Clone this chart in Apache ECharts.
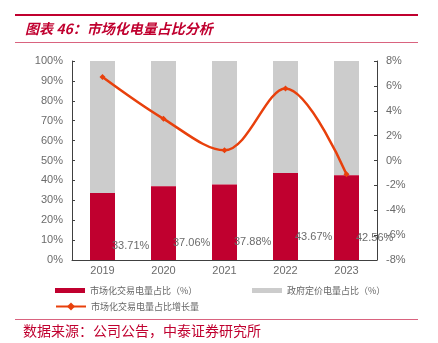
<!DOCTYPE html>
<html><head><meta charset="utf-8">
<script src="https://cdn.jsdelivr.net/npm/echarts@6/dist/echarts.min.js"></script>
<style>html,body{margin:0;padding:0;background:#fff}#c{width:438px;height:343px}</style>
</head><body><div id="c"></div>
<script>
var years = ['2019','2020','2021','2022','2023'];
var marketShare = [33.71, 37.06, 37.88, 43.67, 42.56];
var govShare = [66.29, 62.94, 62.12, 56.33, 57.44];
var shareGrowth = [6.71, 3.35, 0.82, 5.79, -1.11];
var leftTicks = [0, 100, 10];
var rightTicks = [-8, 8, 2];

var RED = '#C0002F', GRAY = '#CCCCCC', ORANGE = '#E8400C', TXT = '#6B6B6B';
var FONT = 'Liberation Sans, Arial, sans-serif';
var CJK = 'Noto Sans CJK SC';
var chart = echarts.init(document.getElementById('c'), null, {renderer: 'canvas'});
chart.setOption({
  animation: false,
  graphic: [
    {type: 'line', shape: {x1: 15, y1: 15, x2: 418, y2: 15}, style: {stroke: RED, lineWidth: 2}},
    {type: 'text', left: 25, top: 22, style: {text: '图表 46：市场化电量占比分析', fill: RED, font: 'italic bold 14px "Noto Sans CJK SC"'}},
    {type: 'line', shape: {x1: 15, y1: 42.5, x2: 418, y2: 42.5}, style: {stroke: '#D9637F', lineWidth: 1}},
    {type: 'line', shape: {x1: 15, y1: 319.5, x2: 418, y2: 319.5}, style: {stroke: '#D9637F', lineWidth: 1}},
    {type: 'text', left: 23, top: 324, style: {text: '数据来源：公司公告，中泰证券研究所', fill: RED, font: '14px "Noto Sans CJK SC"'}}
  ],
  legend: [
    {left: 50, top: 281, itemWidth: 30, itemHeight: 5, itemGap: 5, icon: 'rect',
     textStyle: {fontSize: 9, color: '#666', fontFamily: CJK}, data: ['市场化交易电量占比（%）']},
    {left: 247, top: 281, itemWidth: 30, itemHeight: 5, icon: 'rect',
     textStyle: {fontSize: 9, color: '#666', fontFamily: CJK}, data: ['政府定价电量占比（%）']},
    {left: 50, top: 297, itemWidth: 30, itemHeight: 10,
     textStyle: {fontSize: 9, color: '#666', fontFamily: CJK}, data: ['市场化交易电量占比增长量']}
  ],
  grid: {left: 72, right: 61, top: 61, bottom: 83},
  xAxis: {
    type: 'category', data: years, boundaryGap: true,
    axisLine: {lineStyle: {color: '#404040', width: 1}},
    axisTick: {inside: true, length: 3, lineStyle: {color: '#404040'}},
    axisLabel: {color: TXT, fontSize: 11, fontFamily: FONT, margin: 5}
  },
  yAxis: [
    {type: 'value', min: leftTicks[0], max: leftTicks[1], interval: leftTicks[2],
     axisLine: {show: true, lineStyle: {color: '#404040'}},
     axisTick: {show: true, inside: true, length: 3, lineStyle: {color: '#404040'}},
     splitLine: {show: false},
     axisLabel: {color: TXT, fontSize: 11, fontFamily: FONT, margin: 9, formatter: '{value}%'}},
    {type: 'value', min: rightTicks[0], max: rightTicks[1], interval: rightTicks[2], position: 'right',
     axisLine: {show: true, lineStyle: {color: '#404040'}},
     axisTick: {show: true, inside: true, length: 3, lineStyle: {color: '#404040'}},
     splitLine: {show: false},
     axisLabel: {color: TXT, fontSize: 11, fontFamily: FONT, margin: 9, formatter: '{value}%'}}
  ],
  series: [
    {name: '市场化交易电量占比（%）', type: 'bar', stack: 's', barWidth: 25, data: marketShare,
     itemStyle: {color: RED}, z: 2,
     label: {show: true, position: 'right', distance: 0, offset: [-3, 20], color: TXT, fontSize: 11, fontFamily: FONT,
       formatter: function (p) { return p.value.toFixed(2) + '%'; }}},
    {name: '政府定价电量占比（%）', type: 'bar', stack: 's', barWidth: 25, data: govShare,
     itemStyle: {color: GRAY}, z: 1},
    {name: '市场化交易电量占比增长量', type: 'line', yAxisIndex: 1, data: shareGrowth, smooth: 0.35,
     symbol: 'diamond', symbolSize: 6, lineStyle: {color: ORANGE, width: 2.5}, itemStyle: {color: ORANGE}, z: 5}
  ]
});
</script></body></html>
